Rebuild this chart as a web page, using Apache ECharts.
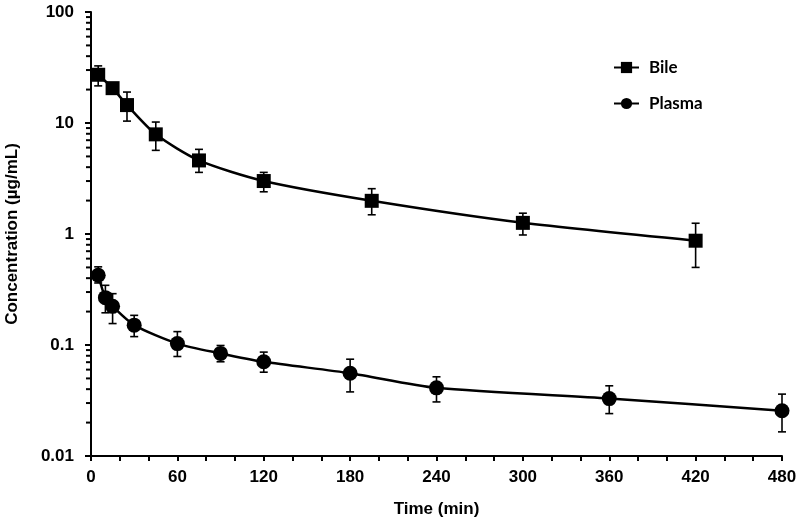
<!DOCTYPE html>
<html>
<head>
<meta charset="utf-8">
<script src="https://cdn.jsdelivr.net/npm/echarts@6/dist/echarts.min.js"></script>
<style>html,body{margin:0;padding:0;background:#fff}#c{width:799px;height:526px}</style>
</head>
<body>
<div id="c"></div>
<script>
// Data (time in min, concentration in µg/mL)
var bileTime  = [5, 15, 25, 45, 75, 120, 195, 300, 420];
var bileMean  = [27.2, 20.6, 14.5, 7.9, 4.6, 3.0, 1.99, 1.26, 0.87];
var bileLow   = [21.6, 20.6, 10.4, 5.67, 3.59, 2.40, 1.49, 0.98, 0.50];
var bileHigh  = [32.7, 20.6, 19.0, 10.2, 5.79, 3.59, 2.56, 1.54, 1.25];

var plasmaTime = [5, 10, 15, 30, 60, 90, 120, 180, 240, 360, 480];
var plasmaMean = [0.425, 0.267, 0.223, 0.151, 0.103, 0.084, 0.0706, 0.0557, 0.0411, 0.0329, 0.0256];
var plasmaLow  = [0.362, 0.195, 0.156, 0.119, 0.0788, 0.0706, 0.0569, 0.0378, 0.0307, 0.0241, 0.0165];
var plasmaHigh = [0.506, 0.345, 0.290, 0.185, 0.132, 0.099, 0.0863, 0.0745, 0.0517, 0.0429, 0.0361];

var xTicks = [0, 60, 120, 180, 240, 300, 360, 420, 480];
var yTicks = [0.01, 0.1, 1, 10, 100];

var minorY = [];
for (var d = 0; d < yTicks.length - 1; d++) {
  for (var k = 2; k <= 9; k++) minorY.push(+(yTicks[d] * k).toPrecision(3));
}

function zip(a, b) { return a.map(function (v, i) { return [v, b[i]]; }); }
function zip3(a, b, c) { return a.map(function (v, i) { return [v, b[i], c[i]]; }); }

function errRender(params, api) {
  var x = api.value(0), lo = api.value(1), hi = api.value(2);
  var pLo = api.coord([x, lo]);
  var pHi = api.coord([x, hi]);
  var hw = 4;
  var st = { stroke: '#000', lineWidth: 1.6 };
  return {
    type: 'group',
    children: [
      { type: 'line', shape: { x1: pLo[0], y1: pLo[1], x2: pHi[0], y2: pHi[1] }, style: st },
      { type: 'line', shape: { x1: pHi[0] - hw, y1: pHi[1], x2: pHi[0] + hw, y2: pHi[1] }, style: st },
      { type: 'line', shape: { x1: pLo[0] - hw, y1: pLo[1], x2: pLo[0] + hw, y2: pLo[1] }, style: st }
    ]
  };
}

var fontMain = "'Liberation Sans', Arial, sans-serif";

var chart = echarts.init(document.getElementById('c'), null, { renderer: 'canvas' });
chart.setOption({
  animation: false,
  backgroundColor: '#fff',
  grid: { left: 91, right: 17, top: 12, bottom: 70, containLabel: false, outerBoundsMode: 'none' },
  legend: {
    data: ['Bile', 'Plasma'],
    orient: 'vertical',
    left: 608,
    top: 54,
    itemWidth: 25,
    itemHeight: 14,
    itemGap: 19,
    textStyle: { fontFamily: "Lato, 'Open Sans', sans-serif", fontWeight: 'bold', fontSize: 17, color: '#000', padding: [0, 0, 0, 5] }
  },
  xAxis: {
    type: 'value',
    min: 0, max: 480, interval: 60,
    name: 'Time (min)',
    nameLocation: 'middle',
    nameGap: 45,
    nameTextStyle: { fontFamily: fontMain, fontWeight: 'bold', fontSize: 17, color: '#000' },
    axisLine: { show: true, onZero: false, lineStyle: { color: '#000', width: 2 } },
    axisTick: { show: true, length: 5, lineStyle: { color: '#000', width: 2 } },
    minorTick: { show: true, splitNumber: 3, length: 5, lineStyle: { color: '#000', width: 2 } },
    axisLabel: { margin: 13, fontFamily: fontMain, fontWeight: 'bold', fontSize: 17, color: '#000',
      formatter: function (v) { return xTicks.indexOf(v) >= 0 ? String(v) : ''; } },
    splitLine: { show: false }
  },
  yAxis: {
    type: 'log',
    logBase: 10,
    min: 0.01, max: 100,
    name: 'Concentration (\u00b5g/mL)',
    nameLocation: 'middle',
    nameGap: 70,
    nameTextStyle: { fontFamily: fontMain, fontWeight: 'bold', fontSize: 17, color: '#000' },
    axisLine: { show: true, lineStyle: { color: '#000', width: 2 } },
    axisTick: { show: true, length: 6, lineStyle: { color: '#000', width: 2 } },
    axisLabel: { margin: 17, fontFamily: fontMain, fontWeight: 'bold', fontSize: 17, color: '#000',
      formatter: function (v) {
        for (var i = 0; i < yTicks.length; i++) if (Math.abs(v - yTicks[i]) / yTicks[i] < 1e-6) return String(yTicks[i]);
        return '';
      } },
    splitLine: { show: false }
  },
  series: [
    {
      name: 'minorY', type: 'custom', silent: true, clip: false, z: 1,
      data: minorY.map(function (v) { return [0, v]; }),
      renderItem: function (params, api) {
        var p = api.coord([0, api.value(1)]);
        return { type: 'line', shape: { x1: p[0] - 5, y1: p[1], x2: p[0], y2: p[1] }, style: { stroke: '#000', lineWidth: 2 } };
      }
    },
    {
      name: 'BileErr', type: 'custom', silent: true, z: 2,
      data: zip3(bileTime, bileLow, bileHigh), renderItem: errRender
    },
    {
      name: 'PlasmaErr', type: 'custom', silent: true, z: 2,
      data: zip3(plasmaTime, plasmaLow, plasmaHigh), renderItem: errRender
    },
    {
      name: 'Bile', type: 'line', z: 3,
      data: zip(bileTime, bileMean),
      smooth: 0.25,
      symbol: 'rect', symbolSize: 14,
      lineStyle: { color: '#000', width: 2.5 },
      itemStyle: { color: '#000', borderWidth: 0 }
    },
    {
      name: 'Plasma', type: 'line', z: 3,
      data: zip(plasmaTime, plasmaMean),
      smooth: 0.25,
      symbol: 'circle', symbolSize: 15,
      lineStyle: { color: '#000', width: 2.5 },
      itemStyle: { color: '#000', borderWidth: 0 }
    }
  ]
});
</script>
</body>
</html>
